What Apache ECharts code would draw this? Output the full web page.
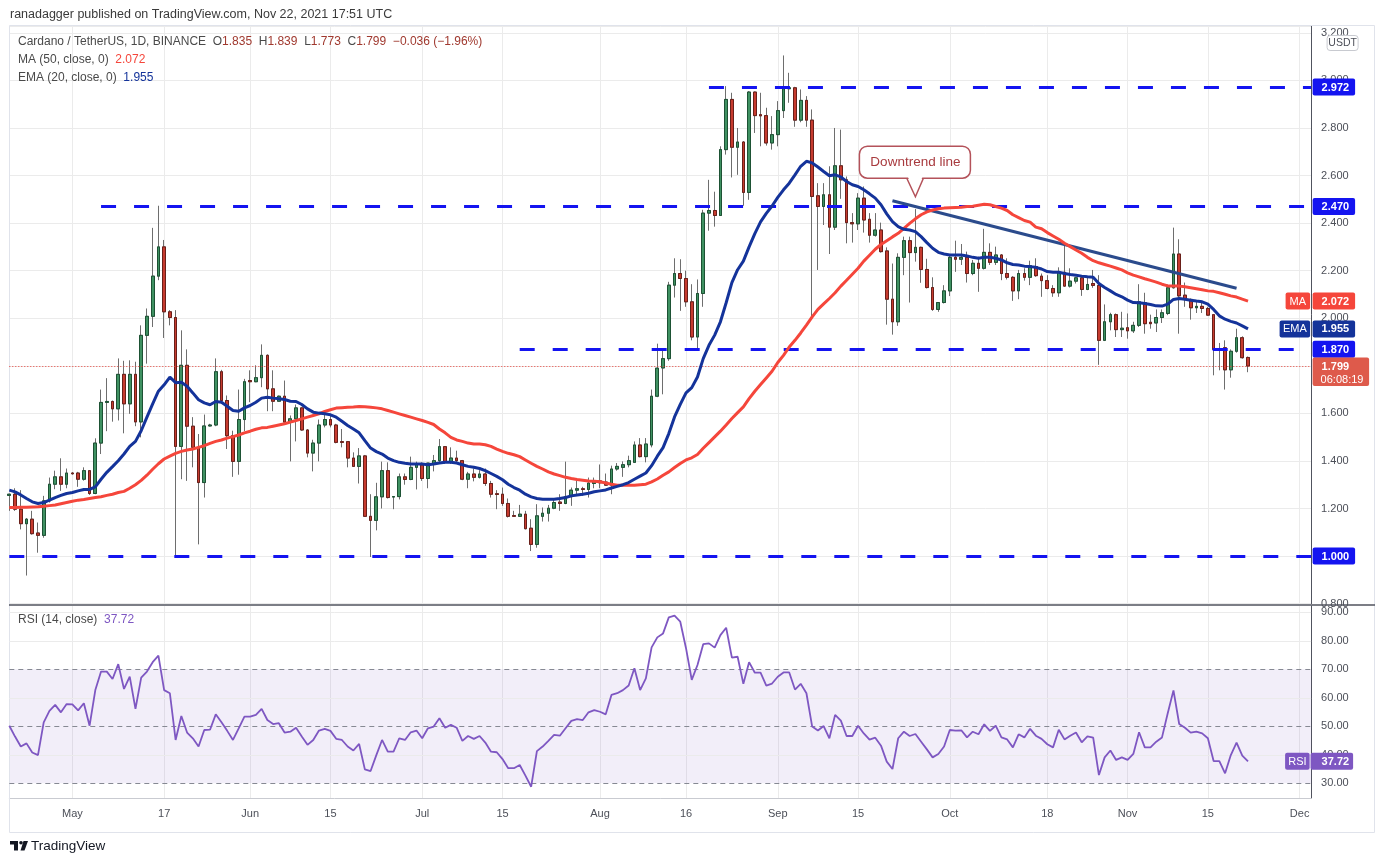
<!DOCTYPE html>
<html>
<head>
<meta charset="utf-8">
<script src="https://cdn.jsdelivr.net/npm/echarts@6/dist/echarts.min.js"></script>
<style>html,body{margin:0;padding:0;background:#fff;}#c{width:1384px;height:860px;}</style>
</head>
<body>
<div id="c"></div>
<script>
const FONT = '"Liberation Sans", Arial, sans-serif';

// ---- categories: daily, 2021-04-20 .. 2021-12-03 (axis extends past last candle) ----
const axisDays = 228;
const categories = [];
for (let i = 0; i < axisDays; i++) {
  const d = new Date(Date.UTC(2021, 3, 20 + i));
  categories.push(d.toISOString().slice(0, 10));
}

// ---- OHLC, 2021-04-20 .. 2021-11-22 (217 days) ----
const opens = [
 1.255,1.260,1.197,1.136,1.155,1.097,1.087,1.232,1.302,1.333,
 1.302,1.349,1.349,1.323,1.359,1.263,1.475,1.646,1.650,1.619,
 1.764,1.640,1.764,1.564,1.928,2.008,2.177,2.300,2.027,2.003,
 1.461,1.802,1.546,1.457,1.309,1.547,1.551,1.775,1.654,1.506,
 1.398,1.574,1.738,1.733,1.750,1.844,1.703,1.651,1.672,1.563,
 1.577,1.623,1.530,1.433,1.475,1.551,1.574,1.551,1.481,1.481,
 1.412,1.377,1.421,1.167,1.150,1.249,1.359,1.248,1.250,1.333,
 1.322,1.373,1.383,1.326,1.387,1.401,1.460,1.397,1.412,1.401,
 1.323,1.345,1.331,1.345,1.305,1.262,1.260,1.221,1.170,1.167,
 1.176,1.117,1.049,1.167,1.180,1.201,1.227,1.221,1.250,1.277,
 1.283,1.280,1.305,1.316,1.311,1.298,1.366,1.373,1.384,1.394,
 1.467,1.418,1.467,1.672,1.791,1.830,2.139,2.188,2.167,2.069,
 1.921,2.104,2.442,2.453,2.432,2.709,2.920,2.719,2.741,2.529,
 2.951,2.856,2.852,2.737,2.772,2.873,2.965,2.969,2.833,2.916,
 2.833,2.515,2.470,2.519,2.383,2.641,2.582,2.402,2.397,2.505,
 2.416,2.349,2.371,2.283,2.080,1.985,2.256,2.326,2.276,2.298,
 2.205,2.129,2.037,2.066,2.115,2.256,2.248,2.256,2.188,2.231,
 2.210,2.277,2.235,2.266,2.188,2.172,2.115,2.188,2.172,2.217,
 2.177,2.158,2.125,2.107,2.193,2.135,2.156,2.170,2.121,2.146,
 2.138,1.907,1.985,2.015,1.952,1.960,1.947,1.970,2.065,1.983,
 1.980,2.003,2.020,2.128,2.270,2.097,2.079,2.044,2.050,2.041,
 2.015,1.869,1.876,1.783,1.861,1.918,1.835
];
const highs = [
 1.262,1.285,1.277,1.160,1.190,1.141,1.253,1.330,1.359,1.411,
 1.368,1.353,1.354,1.373,1.361,1.495,1.700,1.748,1.654,1.831,
 1.821,1.823,1.817,1.970,2.041,2.380,2.473,2.329,2.034,2.034,
 1.949,1.869,1.584,1.513,1.595,1.556,1.831,1.783,1.675,1.527,
 1.700,1.745,1.781,1.802,1.890,1.848,1.781,1.675,1.738,1.591,
 1.637,1.626,1.534,1.489,1.574,1.598,1.591,1.556,1.534,1.483,
 1.436,1.454,1.425,1.260,1.308,1.397,1.394,1.251,1.347,1.347,
 1.418,1.397,1.394,1.391,1.425,1.492,1.462,1.457,1.443,1.404,
 1.354,1.368,1.361,1.368,1.316,1.277,1.288,1.242,1.190,1.215,
 1.190,1.155,1.218,1.204,1.215,1.239,1.260,1.397,1.288,1.316,
 1.291,1.330,1.330,1.385,1.347,1.380,1.391,1.398,1.422,1.482,
 1.496,1.496,1.700,1.893,1.868,2.153,2.252,2.248,2.200,2.143,
 2.163,2.456,2.582,2.532,2.723,2.976,2.948,2.800,2.745,2.955,
 2.953,2.948,2.885,2.850,2.913,3.105,3.032,2.973,2.962,2.934,
 2.878,2.568,2.568,2.639,2.800,2.793,2.596,2.442,2.526,2.554,
 2.442,2.442,2.402,2.298,2.230,2.273,2.343,2.343,2.459,2.301,
 2.250,2.172,2.066,2.139,2.266,2.326,2.312,2.280,2.245,2.259,
 2.376,2.315,2.301,2.270,2.252,2.177,2.203,2.210,2.242,2.252,
 2.188,2.181,2.139,2.214,2.304,2.210,2.174,2.174,2.174,2.203,
 2.181,2.058,2.023,2.020,2.027,2.020,1.985,2.143,2.107,2.015,
 2.037,2.037,2.142,2.381,2.332,2.150,2.083,2.069,2.069,2.048,
 2.015,1.896,1.907,1.869,1.956,1.924,1.839
];
const lows = [
 1.190,1.190,1.112,0.918,1.090,1.014,1.077,1.225,1.281,1.274,
 1.285,1.342,1.291,1.317,1.257,1.260,1.429,1.525,1.565,1.570,
 1.516,1.598,1.546,1.499,1.809,1.963,2.160,1.917,1.970,1.004,
 1.323,1.316,1.373,1.049,1.246,1.545,1.546,1.640,1.450,1.333,
 1.342,1.525,1.647,1.731,1.710,1.609,1.609,1.650,1.551,1.398,
 1.482,1.527,1.415,1.356,1.398,1.541,1.541,1.474,1.457,1.373,
 1.375,1.305,1.165,0.996,1.108,1.200,1.242,1.197,1.238,1.300,
 1.319,1.280,1.316,1.285,1.356,1.390,1.387,1.387,1.394,1.319,
 1.285,1.314,1.326,1.295,1.246,1.197,1.211,1.162,1.165,1.165,
 1.112,1.021,1.035,1.145,1.145,1.197,1.190,1.218,1.211,1.260,
 1.253,1.246,1.285,1.285,1.295,1.260,1.359,1.333,1.373,1.394,
 1.415,1.394,1.457,1.668,1.680,1.821,2.087,2.031,2.048,1.907,
 1.872,2.048,2.368,2.385,2.430,2.688,2.592,2.603,2.473,2.498,
 2.779,2.723,2.726,2.709,2.723,2.842,2.906,2.805,2.824,2.805,
 2.006,2.203,2.392,2.270,2.371,2.502,2.315,2.318,2.371,2.360,
 2.318,2.343,2.276,1.973,1.931,1.968,2.181,2.066,2.238,2.149,
 2.125,2.031,2.027,2.062,2.093,2.195,2.224,2.150,2.181,2.111,
 2.205,2.224,2.224,2.160,2.163,2.073,2.080,2.158,2.139,2.174,
 2.090,2.121,2.090,2.090,2.132,2.129,2.146,2.094,2.118,2.128,
 1.804,1.904,1.949,1.921,1.921,1.914,1.938,1.963,1.935,1.956,
 1.942,1.980,2.013,2.125,1.935,2.048,1.994,2.022,2.022,2.010,
 1.760,1.781,1.700,1.750,1.855,1.830,1.773
];
const closes = [
 1.260,1.197,1.136,1.155,1.094,1.087,1.232,1.302,1.333,1.302,
 1.349,1.346,1.323,1.359,1.263,1.475,1.646,1.650,1.619,1.764,
 1.640,1.764,1.564,1.928,2.008,2.177,2.300,2.027,2.003,1.461,
 1.802,1.546,1.457,1.309,1.547,1.551,1.775,1.654,1.506,1.398,
 1.574,1.733,1.733,1.750,1.844,1.703,1.651,1.672,1.563,1.577,
 1.623,1.530,1.433,1.475,1.551,1.574,1.551,1.478,1.478,1.412,
 1.377,1.421,1.167,1.150,1.249,1.359,1.246,1.250,1.333,1.322,
 1.373,1.387,1.326,1.391,1.401,1.460,1.397,1.412,1.401,1.323,
 1.345,1.331,1.345,1.305,1.260,1.259,1.221,1.167,1.167,1.176,
 1.115,1.049,1.169,1.180,1.201,1.225,1.221,1.250,1.277,1.283,
 1.280,1.307,1.316,1.308,1.298,1.366,1.377,1.384,1.401,1.467,
 1.418,1.471,1.672,1.790,1.830,2.139,2.188,2.167,2.069,1.921,
 2.104,2.442,2.453,2.432,2.709,2.920,2.719,2.741,2.529,2.951,
 2.852,2.851,2.737,2.772,2.873,2.965,2.969,2.833,2.916,2.833,
 2.512,2.470,2.519,2.383,2.641,2.582,2.402,2.397,2.505,2.413,
 2.349,2.371,2.280,2.080,1.985,2.256,2.326,2.276,2.298,2.205,
 2.129,2.037,2.066,2.115,2.256,2.248,2.256,2.188,2.231,2.210,
 2.277,2.235,2.266,2.188,2.172,2.115,2.188,2.172,2.221,2.179,
 2.158,2.125,2.107,2.193,2.135,2.156,2.170,2.121,2.142,2.138,
 1.907,1.985,2.015,1.952,1.958,1.947,1.970,2.069,1.977,1.977,
 2.003,2.023,2.128,2.270,2.094,2.079,2.044,2.050,2.041,2.013,
 1.869,1.872,1.783,1.861,1.918,1.834,1.799
];

// ---- indicators ----
const ma50 = [
 1.204,1.204,1.205,1.205,1.206,1.207,1.209,1.212,1.215,1.220,
 1.225,1.230,1.235,1.238,1.242,1.246,1.249,1.255,1.260,1.267,
 1.272,1.285,1.300,1.318,1.340,1.365,1.388,1.408,1.420,1.432,
 1.440,1.446,1.450,1.457,1.464,1.474,1.482,1.488,1.496,1.502,
 1.509,1.518,1.525,1.533,1.539,1.541,1.546,1.551,1.556,1.563,
 1.570,1.577,1.584,1.591,1.598,1.608,1.615,1.622,1.624,1.626,
 1.627,1.629,1.628,1.626,1.623,1.619,1.612,1.605,1.598,1.591,
 1.584,1.577,1.570,1.562,1.553,1.534,1.518,1.499,1.488,1.482,
 1.475,1.471,1.471,1.468,1.461,1.450,1.440,1.432,1.426,1.418,
 1.404,1.390,1.377,1.366,1.354,1.345,1.338,1.331,1.326,1.322,
 1.319,1.316,1.314,1.312,1.307,1.302,1.298,1.298,1.298,1.298,
 1.300,1.302,1.312,1.324,1.340,1.354,1.372,1.389,1.404,1.413,
 1.427,1.453,1.477,1.501,1.525,1.551,1.578,1.603,1.627,1.662,
 1.693,1.721,1.749,1.777,1.814,1.844,1.879,1.907,1.938,1.971,
 2.006,2.037,2.060,2.083,2.107,2.135,2.160,2.185,2.210,2.240,
 2.265,2.290,2.310,2.326,2.342,2.357,2.378,2.399,2.418,2.435,
 2.447,2.455,2.460,2.463,2.465,2.466,2.467,2.470,2.471,2.475,
 2.479,2.477,2.470,2.463,2.453,2.435,2.423,2.411,2.404,2.383,
 2.376,2.360,2.346,2.332,2.315,2.301,2.287,2.273,2.256,2.242,
 2.233,2.226,2.219,2.211,2.203,2.191,2.181,2.174,2.166,2.159,
 2.152,2.143,2.136,2.135,2.135,2.132,2.128,2.124,2.120,2.115,
 2.113,2.107,2.101,2.094,2.089,2.080,2.072
];
const ema20 = [
 1.277,1.270,1.257,1.242,1.228,1.221,1.225,1.235,1.246,1.255,
 1.263,1.267,1.274,1.280,1.280,1.291,1.323,1.352,1.376,1.401,
 1.429,1.461,1.482,1.527,1.584,1.640,1.693,1.720,1.752,1.729,
 1.731,1.714,1.686,1.657,1.644,1.636,1.650,1.647,1.630,1.612,
 1.609,1.623,1.633,1.647,1.664,1.668,1.664,1.661,1.658,1.651,
 1.650,1.637,1.619,1.605,1.601,1.598,1.594,1.584,1.567,1.549,
 1.534,1.518,1.485,1.454,1.439,1.429,1.412,1.401,1.394,1.390,
 1.387,1.387,1.387,1.384,1.387,1.391,1.394,1.394,1.391,1.384,
 1.377,1.373,1.368,1.359,1.347,1.335,1.321,1.302,1.288,1.277,
 1.260,1.249,1.242,1.239,1.239,1.239,1.242,1.246,1.253,1.257,
 1.260,1.264,1.270,1.274,1.278,1.286,1.293,1.300,1.309,1.323,
 1.336,1.349,1.380,1.420,1.456,1.515,1.585,1.638,1.686,1.708,
 1.753,1.830,1.886,1.929,1.985,2.065,2.150,2.204,2.240,2.300,
 2.356,2.405,2.441,2.472,2.508,2.540,2.568,2.603,2.639,2.660,
 2.653,2.636,2.617,2.599,2.603,2.594,2.575,2.561,2.554,2.540,
 2.523,2.505,2.477,2.439,2.406,2.385,2.374,2.371,2.364,2.343,
 2.318,2.294,2.277,2.270,2.266,2.266,2.266,2.262,2.256,2.252,
 2.256,2.256,2.252,2.245,2.233,2.226,2.224,2.219,2.217,2.214,
 2.207,2.196,2.193,2.193,2.188,2.184,2.181,2.177,2.174,2.172,
 2.146,2.129,2.115,2.100,2.090,2.076,2.066,2.065,2.062,2.058,
 2.052,2.051,2.059,2.079,2.083,2.080,2.076,2.072,2.069,2.059,
 2.037,2.010,1.996,1.987,1.980,1.968,1.955
];
const rsi14 = [
 50.2,46.4,42.9,44.0,40.8,39.9,51.4,55.4,57.5,54.9,
 57.8,57.7,55.6,58.1,50.2,62.7,69.2,69.2,66.6,71.8,
 63.1,67.4,56.1,67.1,69.2,72.5,74.8,62.7,61.6,45.2,
 53.6,47.8,45.8,42.9,48.7,48.8,54.2,51.4,48.4,45.2,
 49.3,53.4,53.4,54.0,56.1,52.2,50.8,51.1,47.8,48.1,
 49.5,46.4,43.5,45.2,48.5,49.1,48.4,45.6,45.2,42.9,
 41.5,43.8,34.9,34.3,39.9,45.2,41.1,41.1,45.8,45.2,
 47.9,48.5,45.8,49.3,49.9,52.8,49.5,50.5,49.5,44.9,
 46.6,45.6,46.6,44.3,41.1,40.9,38.5,35.3,35.3,36.4,
 32.7,28.8,41.3,42.9,44.9,47.0,46.7,49.3,51.9,52.5,
 52.2,54.9,55.7,55.1,54.2,61.0,61.6,62.7,64.3,70.4,
 62.7,66.8,77.7,81.2,82.6,88.2,88.8,86.7,77.4,66.3,
 71.5,78.8,79.1,77.6,82.0,84.6,74.1,74.4,64.9,72.5,
 68.8,68.8,64.3,65.0,67.4,68.9,68.9,62.9,64.9,61.6,
 49.9,48.5,50.1,45.8,54.0,52.0,46.6,46.6,50.2,47.5,
 45.3,46.0,43.2,37.6,35.0,45.8,48.1,46.6,47.3,44.6,
 41.9,39.1,40.3,42.9,48.7,48.5,48.6,46.1,48.1,47.2,
 50.7,48.4,50.2,46.1,45.4,42.6,47.2,46.1,49.1,46.7,
 45.6,43.7,42.6,48.8,45.4,46.7,47.8,44.4,46.5,46.0,
 32.9,39.1,41.5,38.2,39.1,38.2,40.3,47.9,42.6,42.6,
 44.6,46.1,54.6,62.6,50.8,49.5,47.8,48.1,47.5,45.8,
 37.8,37.8,33.5,39.9,44.3,39.7,37.72
];

// ---- axis ticks ----
const tickDates  = ['2021-05-01','2021-05-17','2021-06-01','2021-06-15','2021-07-01','2021-07-15','2021-08-01','2021-08-16','2021-09-01','2021-09-15','2021-10-01','2021-10-18','2021-11-01','2021-11-15','2021-12-01'];
const tickLabels = ['May','17','Jun','15','Jul','15','Aug','16','Sep','15','Oct','18','Nov','15','Dec'];
const rsiTicks = [30, 40, 50, 60, 70, 80, 90];
const rsiDashed = [30, 50, 70];
const rsiSolid = [40, 60, 80, 90];

// ---- annotations ----
const levels      = [2.972, 2.470, 1.870, 1.000];
const levelStarts = ['2021-08-20', '2021-05-06', '2021-07-18', '2021-04-20'];
const trendStart = ['2021-09-21', 2.494];
const trendEnd   = ['2021-11-20', 2.126];
const calloutAt  = ['2021-09-25', 2.511];
const lastPrice = 1.799, countdown = '06:08:19';
const maLast = 2.072, emaLast = 1.955, rsiLast = 37.72;

// ---- colours ----
const C_UP = '#3f9162', C_UP_B = '#1d5234', C_DN = '#c63b2f', C_DN_B = '#6a1f19', C_WICK = '#6e6e6e';
const C_MA = '#f5463b', C_EMA = '#14339a', C_LVL = '#1414f0', C_TREND = '#2b4b8c', C_RSI = '#7e57c2';
const C_TXT = '#4c4f58', C_GRID = '#ebebeb';

const tickSet = new Set(tickDates);
const tickText = {};
tickDates.forEach((d, i) => tickText[d] = tickLabels[i]);
const isTick = (i, v) => tickSet.has(v);

const wickData = opens.map((o, i) => [o, closes[i], lows[i], highs[i]]);
const bodyData = opens.map((o, i) => [o, closes[i], Math.min(o, closes[i]), Math.max(o, closes[i])]);
const lastCat = categories[axisDays - 1];
const CANDLE_W = 3.2;

const option = {
  animation: false,
  backgroundColor: '#ffffff',
  textStyle: { fontFamily: FONT },
  grid: [
    { left: 9.3, right: 72.9, top: 26, height: 577.6, outerBoundsMode: 'none', containLabel: false },
    { left: 9.3, right: 72.9, top: 606, height: 192, outerBoundsMode: 'none', containLabel: false }
  ],
  xAxis: [0, 1].map(g => ({
    type: 'category', gridIndex: g, data: categories, boundaryGap: false,
    axisLine: { show: g === 1, lineStyle: { color: '#c9cbd1' } },
    axisTick: { show: false },
    axisLabel: { show: g === 1, interval: isTick, formatter: v => tickText[v] || '', color: C_TXT, fontSize: 11, fontFamily: FONT, margin: 10 },
    splitLine: { show: true, interval: isTick, lineStyle: { color: C_GRID, width: 1 } }
  })),
  yAxis: [
    { type: 'value', gridIndex: 0, position: 'right', min: 0.8, max: 3.2288, interval: 0.2,
      axisLine: { show: true, lineStyle: { color: '#50535e' } }, axisTick: { show: false },
      axisLabel: { formatter: v => v.toFixed(3), color: C_TXT, fontSize: 11, fontFamily: FONT, margin: 10, showMaxLabel: false },
      splitLine: { show: true, lineStyle: { color: C_GRID } } },
    { type: 'value', gridIndex: 1, position: 'right', min: 24.84, max: 92.21,
      axisLine: { show: true, lineStyle: { color: '#50535e' } }, axisTick: { show: false },
      axisLabel: { customValues: rsiTicks, formatter: v => Number(v).toFixed(2), color: C_TXT, fontSize: 11, fontFamily: FONT, margin: 10 },
      splitLine: { show: false } }
  ],
  series: [
    { name: 'wick', type: 'candlestick', xAxisIndex: 0, yAxisIndex: 0, data: wickData, barWidth: CANDLE_W, z: 3, silent: true,
      itemStyle: { color: C_WICK, color0: C_WICK, borderColor: C_WICK, borderColor0: C_WICK, borderColorDoji: C_WICK, borderWidth: 1 } },
    { name: 'body', type: 'candlestick', xAxisIndex: 0, yAxisIndex: 0, data: bodyData, barWidth: CANDLE_W, z: 4, silent: true,
      itemStyle: { color: C_UP, color0: C_DN, borderColor: C_UP_B, borderColor0: C_DN_B, borderColorDoji: C_DN_B, borderWidth: 1 } },
    { name: 'MA', type: 'line', xAxisIndex: 0, yAxisIndex: 0, data: ma50, symbol: 'none', showSymbol: false, z: 5, silent: true,
      lineStyle: { color: C_MA, width: 3 } },
    { name: 'EMA', type: 'line', xAxisIndex: 0, yAxisIndex: 0, data: ema20, symbol: 'none', showSymbol: false, z: 6, silent: true,
      lineStyle: { color: C_EMA, width: 3 },
      markLine: {
        silent: true, animation: false, symbol: ['none', 'none'], label: { show: false },
        data: levels.map((v, i) => [
          { coord: [levelStarts[i], v], lineStyle: { color: C_LVL, width: 3, type: [15, 18] } },
          { coord: [lastCat, v] }
        ]).concat([
          [ { coord: trendStart, lineStyle: { color: C_TREND, width: 3, type: 'solid' } }, { coord: trendEnd } ],
          [ { coord: [categories[0], lastPrice], lineStyle: { color: '#e8453c', width: 1, type: [1, 2] } }, { coord: [lastCat, lastPrice] } ]
        ])
      } },
    { name: 'RSI', type: 'line', xAxisIndex: 1, yAxisIndex: 1, data: rsi14, symbol: 'none', showSymbol: false, z: 10, silent: true,
      lineStyle: { color: C_RSI, width: 1.8 },
      markArea: { silent: true, itemStyle: { color: 'rgba(126,87,194,0.10)' }, data: [[{ yAxis: 30 }, { yAxis: 70 }]] },
      markLine: {
        silent: true, animation: false, symbol: ['none', 'none'], label: { show: false },
        data: rsiDashed.map(v => ({ yAxis: v, lineStyle: { color: '#868993', width: 1, type: [5, 4] } }))
          .concat(rsiSolid.map(v => ({ yAxis: v, lineStyle: { color: C_GRID, width: 1, type: 'solid' } })))
      } }
  ]
};

const chart = echarts.init(document.getElementById('c'));
chart.setOption(option);

// ---- overlays positioned via the chart's own scales ----
const axisX = chart.convertToPixel({ xAxisIndex: 0 }, lastCat);
const py = v => chart.convertToPixel({ yAxisIndex: 0 }, v);
const ry = v => chart.convertToPixel({ yAxisIndex: 1 }, v);
const tx = axisX + 1.5, textX = axisX + 10.5;

const g = [];
const txt = (x, y, text, font, fill, extra) => Object.assign({ type: 'text', x, y, z: 120,
  style: { text, font, fill, verticalAlign: 'middle', align: 'left' } }, extra || {});
const box = (x, y, w, h, fill, extra) => Object.assign({ type: 'rect', z: 110,
  shape: { x, y, width: w, height: h, r: 2 }, style: { fill } }, extra || {});

// frame + pane separator
g.push({ type: 'rect', z: 1, shape: { x: 9.5, y: 25.5, width: 1365, height: 807 }, style: { fill: 'rgba(0,0,0,0)', stroke: '#e0e3eb', lineWidth: 1 } });
g.push({ type: 'line', z: 90, shape: { x1: 9, y1: 605, x2: 1375, y2: 605 }, style: { stroke: '#50535e', lineWidth: 1.5 } });

// header + legends
g.push(txt(10, 14.5, 'ranadagger published on TradingView.com, Nov 22, 2021 17:51 UTC', '12.5px ' + FONT, '#3a3a3a'));
const rich = (col) => ({ fill: col, color: col, font: '12px ' + FONT });
g.push({ type: 'text', x: 18, y: 42, z: 120, style: {
  text: '{g|Cardano / TetherUS, 1D, BINANCE}  {g|O}{r|1.835}  {g|H}{r|1.839}  {g|L}{r|1.773}  {g|C}{r|1.799}  {r|\u22120.036 (\u22121.96%)}',
  font: '12px ' + FONT, verticalAlign: 'middle', rich: { g: rich('#4a4a4a'), r: rich('#a0392f') } } });
g.push({ type: 'text', x: 18, y: 60, z: 120, style: { text: '{g|MA (50, close, 0)}  {m|2.072}', font: '12px ' + FONT, verticalAlign: 'middle', rich: { g: rich('#4a4a4a'), m: rich(C_MA) } } });
g.push({ type: 'text', x: 18, y: 78, z: 120, style: { text: '{g|EMA (20, close, 0)}  {e|1.955}', font: '12px ' + FONT, verticalAlign: 'middle', rich: { g: rich('#4a4a4a'), e: rich(C_EMA) } } });
g.push({ type: 'text', x: 18, y: 620, z: 120, style: { text: '{g|RSI (14, close)}  {p|37.72}', font: '12px ' + FONT, verticalAlign: 'middle', rich: { g: rich('#4a4a4a'), p: rich(C_RSI) } } });

// USDT box
g.push({ type: 'rect', z: 110, shape: { x: axisX + 16, y: 35.5, width: 31, height: 15, r: 3 }, style: { fill: '#fff', stroke: '#c8cad0', lineWidth: 1 } });
g.push(txt(axisX + 31.5, 43, 'USDT', '10.5px ' + FONT, C_TXT, { style: { text: 'USDT', font: '10.5px ' + FONT, fill: C_TXT, align: 'center', verticalAlign: 'middle' } }));

// level tags
levels.forEach(v => {
  const y = py(v);
  g.push(box(tx, y - 8.5, 42.5, 17, C_LVL));
  g.push(txt(textX, y + 0.5, v.toFixed(3), 'bold 11px ' + FONT, '#ffffff'));
});
// MA tag
{
  const y = py(maLast);
  g.push(box(axisX - 25.5, y - 8.5, 24.5, 17, C_MA));
  g.push(txt(axisX - 13.25, y + 0.5, 'MA', '11px ' + FONT, '#fff', { style: { text: 'MA', font: '11px ' + FONT, fill: '#fff', align: 'center', verticalAlign: 'middle' } }));
  g.push(box(tx, y - 8.5, 42.5, 17, C_MA));
  g.push(txt(textX, y + 0.5, maLast.toFixed(3), 'bold 11px ' + FONT, '#fff'));
}
// EMA tag
{
  const y = py(emaLast);
  g.push(box(axisX - 31.5, y - 8.5, 30.5, 17, C_EMA));
  g.push(txt(axisX - 16.25, y + 0.5, 'EMA', '11px ' + FONT, '#fff', { style: { text: 'EMA', font: '11px ' + FONT, fill: '#fff', align: 'center', verticalAlign: 'middle' } }));
  g.push(box(tx, y - 8.5, 42.5, 17, C_EMA));
  g.push(txt(textX, y + 0.5, emaLast.toFixed(3), 'bold 11px ' + FONT, '#fff'));
}
// last price + countdown
{
  const y = py(lastPrice);
  g.push(box(tx, y - 8.5, 56.5, 28.5, '#de5a4b'));
  g.push(txt(textX, y + 0.5, lastPrice.toFixed(3), 'bold 11px ' + FONT, '#fff'));
  g.push(txt(textX - 1, y + 13.5, countdown, '11px ' + FONT, '#fff'));
}
// RSI tag
{
  const y = ry(rsiLast);
  g.push(box(axisX - 26, y - 8.5, 24.5, 17, C_RSI));
  g.push(txt(axisX - 13.75, y + 0.5, 'RSI', '11px ' + FONT, '#fff', { style: { text: 'RSI', font: '11px ' + FONT, fill: '#fff', align: 'center', verticalAlign: 'middle' } }));
  g.push(box(axisX - 0.5, y - 8.5, 42.5, 17, C_RSI));
  g.push(txt(textX, y + 0.5, rsiLast.toFixed(2), 'bold 11px ' + FONT, '#fff'));
}

// Downtrend line callout
{
  const p = chart.convertToPixel({ gridIndex: 0 }, calloutAt);
  const ax = p[0], ay = p[1];
  const stroke = '#b4525a';
  g.push({ type: 'rect', z: 130, shape: { x: ax - 56, y: ay - 50.5, width: 111, height: 32, r: 8 }, style: { fill: '#fff', stroke, lineWidth: 1.5 } });
  g.push({ type: 'polygon', z: 131, shape: { points: [[ax - 7.6, ay - 20.2], [ax + 7.2, ay - 20.2], [ax, ay - 1.5]] }, style: { fill: '#fff' } });
  g.push({ type: 'polyline', z: 132, shape: { points: [[ax - 8.6, ay - 18.5], [ax, ay], [ax + 8, ay - 18.5]] }, style: { stroke, lineWidth: 1.5, fill: null } });
  g.push({ type: 'text', x: ax, y: ay - 34.5, z: 133, style: { text: 'Downtrend line', font: '13.5px ' + FONT, fill: '#a83a3e', align: 'center', verticalAlign: 'middle' } });
}

// TradingView logo
g.push({ type: 'rect', z: 120, shape: { x: 10, y: 841, width: 8, height: 3.5 }, style: { fill: '#131722' } });
g.push({ type: 'rect', z: 120, shape: { x: 14, y: 841, width: 4, height: 9.5 }, style: { fill: '#131722' } });
g.push({ type: 'circle', z: 120, shape: { cx: 21, cy: 842.8, r: 1.8 }, style: { fill: '#131722' } });
g.push({ type: 'polygon', z: 120, shape: { points: [[23.5, 841], [28, 841], [24.5, 850.5], [20.5, 850.5]] }, style: { fill: '#131722' } });
g.push(txt(31, 846, 'TradingView', '13.5px ' + FONT, '#131722'));

chart.setOption({ graphic: { elements: g } });
</script>
</body>
</html>
